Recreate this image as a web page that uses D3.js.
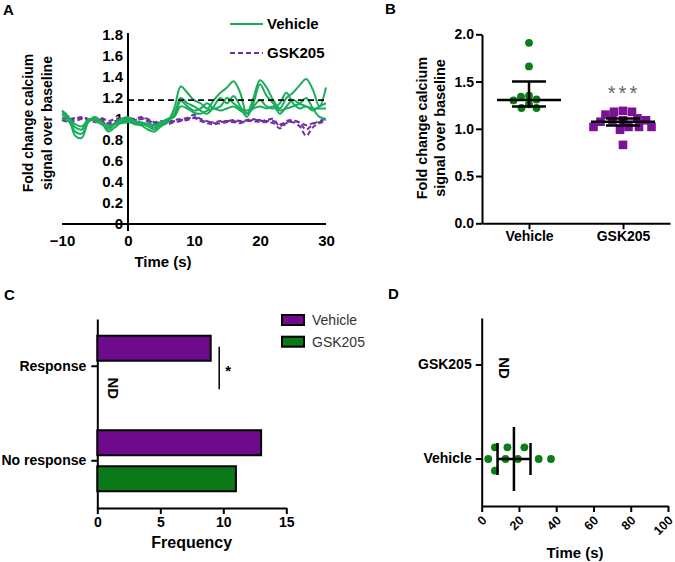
<!DOCTYPE html>
<html>
<head>
<meta charset="utf-8">
<script src="https://cdn.jsdelivr.net/npm/d3@7"></script>
<style>
body { margin: 0; background: #fff; }
text { font-family: "Liberation Sans", Arial, sans-serif; }
</style>
</head>
<body>
<svg id="fig" width="675" height="562"></svg>
<script>
// ---- panel A: calcium traces (fold change vs time) ----
var aTime = [-10,-9,-8,-7,-6,-5,-4,-3,-2,-1,0,1,2,3,4,5,6,7,8,9,10,11,12,13,14,15,16,17,18,19,20,21,22,23,24,25,26,27,28,29,30];
var aVehicle1 = [1.08,1.02,0.84,0.82,0.97,1.0,0.96,0.9,0.95,0.98,1.0,0.97,0.96,0.93,0.9,0.95,0.98,1.1,1.31,1.25,1.18,1.15,1.1,1.18,1.25,1.3,1.36,1.25,1.05,1.2,1.37,1.3,1.18,1.1,1.2,1.25,1.32,1.38,1.28,1.12,1.3];
var aVehicle2 = [1.0,0.98,0.88,0.86,0.98,1.02,0.97,0.88,0.92,0.97,0.98,0.95,0.94,0.9,0.88,0.93,0.97,1.05,1.2,1.15,1.12,1.08,1.05,1.12,1.2,1.15,1.22,1.12,1.02,1.15,1.33,1.22,1.15,1.05,1.12,1.18,1.15,1.2,1.1,1.02,1.0];
var aVehicle3 = [1.04,1.0,0.92,0.9,1.0,0.98,0.95,0.92,0.96,1.0,1.02,0.98,0.97,0.95,0.92,0.96,0.99,1.03,1.17,1.12,1.08,1.1,1.15,1.1,1.12,1.2,1.15,1.1,1.08,1.12,1.18,1.12,1.1,1.15,1.25,1.15,1.1,1.12,1.08,1.12,1.15];
var aVehicle4 = [1.06,1.01,0.95,0.93,0.99,1.0,0.97,0.94,0.95,0.96,0.97,0.96,0.95,0.96,0.94,0.97,1.0,1.02,1.12,1.1,1.06,1.05,1.08,1.1,1.08,1.1,1.12,1.08,1.05,1.1,1.12,1.1,1.12,1.08,1.1,1.12,1.14,1.12,1.1,1.1,1.1];
var aGsk1 = [1.0,0.98,1.0,1.02,1.0,0.98,1.0,0.96,0.98,1.0,1.01,1.0,1.02,1.0,0.97,0.98,0.97,0.99,1.0,1.01,1.04,1.0,0.98,0.96,0.97,0.98,0.99,0.98,0.99,1.0,0.98,0.99,1.0,0.93,0.98,0.99,0.96,0.9,0.95,0.98,1.0];
var aGsk2 = [0.99,0.97,0.98,1.0,0.99,0.97,0.98,0.94,0.96,0.98,0.99,0.98,1.0,0.98,0.95,0.96,0.95,0.97,0.98,0.99,1.01,0.98,0.96,0.95,0.96,0.97,0.97,0.96,0.98,0.98,0.97,0.97,0.96,0.91,0.96,0.97,0.93,0.84,0.92,0.96,0.98];
var aGsk3 = [1.01,1.0,1.01,1.01,1.0,0.99,1.01,0.98,1.0,1.01,1.0,0.99,1.01,0.99,0.96,0.97,0.96,0.98,0.99,1.0,1.02,0.99,0.97,0.97,0.98,0.98,0.98,0.97,0.98,0.99,0.99,0.98,0.98,0.95,0.97,0.98,0.97,0.94,0.96,0.97,0.99];
var aThreshold = 1.18;
var aYTicks = [0,0.2,0.4,0.6,0.8,1,1.2,1.4,1.6,1.8];
var aXTicks = [-10,0,10,20,30];

// ---- panel B: peak fold change per cell ----
var bGroups = ['Vehicle','GSK205'];
var bVehicle = [1.91,1.66,1.35,1.34,1.31,1.30,1.26,1.22,1.22];
var bGsk = [1.19,1.18,1.18,1.15,1.11,1.09,1.09,1.09,1.075,1.02,1.02,1.02,1.02,0.99,0.83];
var bCenter = [1.305,1.075];
var bLower = [1.235,1.035];
var bUpper = [1.50,1.11];
var bYTicks = [0,0.5,1.0,1.5,2.0];

// ---- panel C: response counts ----
var cCategories = ['Response','No response'];
var cSeries = ['Vehicle','GSK205'];
var cVehicle = [9,13];
var cGsk = [null,11];
var cXTicks = [0,5,10,15];

// ---- panel D: time to response ----
var dGroups = ['GSK205','Vehicle'];
var dVehicle = [3.5,7.1,7.1,12.8,13.8,19.4,22.9,30.6,37.2];
var dCenter = 17.3, dLower = 8.5, dUpper = 26.2;
var dXTicks = [0,20,40,60,80,100];

var green = '#1aad5a', purple = '#7030a0';
var dotGreen = '#0b7d12', dotPurple = '#7b1295';
var barPurple = '#6e0a8c', barGreen = '#0a7a18';

var svg = d3.select('#fig');

function styleAxis(g, size) {
  g.selectAll('path, line').attr('stroke', '#000').attr('stroke-width', 2);
  g.selectAll('text').attr('fill', '#000').attr('font-weight', 'bold')
    .attr('font-size', size || 14).attr('font-family', '"Liberation Sans", Arial, sans-serif');
}

function panelLabel(txt, x, y) {
  svg.append('text').attr('x', x).attr('y', y).attr('font-size', 15)
    .attr('font-weight', 'bold').text(txt);
}

// ================= A =================
var xA = d3.scaleLinear().domain([-10, 30]).range([62, 326]);
var yA = d3.scaleLinear().domain([0, 1.8]).range([224, 35]);
var gA = svg.append('g');

var axA = gA.append('g').attr('transform', 'translate(0,' + yA(0) + ')')
  .call(d3.axisBottom(xA).tickValues(aXTicks).tickSize(0).tickPadding(11));
axA.select('.domain').remove();
styleAxis(axA, 15);
var ayA = gA.append('g').attr('transform', 'translate(' + xA(0) + ',0)')
  .call(d3.axisLeft(yA).tickValues(aYTicks).tickSize(0).tickPadding(5).tickFormat(d3.format('~g')));
ayA.select('.domain').remove();
styleAxis(ayA, 15);

gA.append('line').attr('x1', xA(-10)).attr('x2', xA(30)).attr('y1', yA(0)).attr('y2', yA(0))
  .attr('stroke', '#000').attr('stroke-width', 2);
gA.append('line').attr('x1', xA(0)).attr('x2', xA(0)).attr('y1', yA(1.8) - 2).attr('y2', yA(0) + 7)
  .attr('stroke', '#000').attr('stroke-width', 2);

var lineA = d3.line().x(function (d, i) { return xA(aTime[i]); }).y(function (d) { return yA(d); })
  .curve(d3.curveCatmullRom.alpha(0.5));

[aGsk1, aGsk2, aGsk3].forEach(function (s) {
  gA.append('path').attr('d', lineA(s)).attr('fill', 'none').attr('stroke', purple)
    .attr('stroke-width', 2).attr('stroke-dasharray', '5,3');
});
[aVehicle1, aVehicle2, aVehicle3, aVehicle4].forEach(function (s) {
  gA.append('path').attr('d', lineA(s)).attr('fill', 'none').attr('stroke', green)
    .attr('stroke-width', 2);
});
gA.append('line').attr('x1', xA(0)).attr('x2', xA(30)).attr('y1', yA(aThreshold)).attr('y2', yA(aThreshold))
  .attr('stroke', '#000').attr('stroke-width', 1.8).attr('stroke-dasharray', '6,4');

// legend A
gA.append('line').attr('x1', 230).attr('x2', 263).attr('y1', 24).attr('y2', 24)
  .attr('stroke', green).attr('stroke-width', 2);
gA.append('text').attr('x', 267).attr('y', 24).attr('dy', '0.35em').attr('font-size', 15)
  .attr('font-weight', 'bold').text('Vehicle');
gA.append('line').attr('x1', 230).attr('x2', 263).attr('y1', 53).attr('y2', 53)
  .attr('stroke', purple).attr('stroke-width', 2).attr('stroke-dasharray', '5,3');
gA.append('text').attr('x', 267).attr('y', 53).attr('dy', '0.35em').attr('font-size', 15)
  .attr('font-weight', 'bold').text('GSK205');

gA.append('text').attr('x', 163).attr('y', 267).attr('text-anchor', 'middle').attr('font-size', 15)
  .attr('font-weight', 'bold').text('Time (s)');
var ylA = gA.append('text').attr('transform', 'translate(28,123) rotate(-90)')
  .attr('text-anchor', 'middle').attr('font-size', 14).attr('font-weight', 'bold');
ylA.append('tspan').attr('x', 0).attr('dy', '0.35em').text('Fold change calcium');
ylA.append('tspan').attr('x', 0).attr('dy', '1.35em').text('signal over baseline');
panelLabel('A', 3, 15);

// ================= B =================
var xB = d3.scalePoint().domain(bGroups).range([482, 670]).padding(0.5);
var yB = d3.scaleLinear().domain([0, 2]).range([223.3, 34.3]);
var gB = svg.append('g');
var axB = gB.append('g').attr('transform', 'translate(0,' + yB(0) + ')')
  .call(d3.axisBottom(xB).tickSize(6).tickSizeOuter(0).tickPadding(2));
styleAxis(axB);
var ayB = gB.append('g').attr('transform', 'translate(482,0)')
  .call(d3.axisLeft(yB).tickValues(bYTicks).tickSize(6).tickSizeOuter(0).tickPadding(2).tickFormat(d3.format('.1f')));
styleAxis(ayB);

// simple deterministic beeswarm: nearest free horizontal offset
function swarm(values, cx, yScale, dist) {
  var placed = [];
  return values.map(function (v) {
    var y = yScale(v), off = 0;
    for (var k = 0; k < 400; k++) {
      off = (k % 2 ? -1 : 1) * Math.ceil(k / 2) * 0.5;
      var ok = placed.every(function (p) {
        var dx = p.x - (cx + off), dy = p.y - y;
        return dx * dx + dy * dy >= dist * dist;
      });
      if (ok) break;
    }
    var pt = { x: cx + off, y: y };
    placed.push(pt);
    return pt;
  });
}

var ptsBV = swarm(bVehicle, xB('Vehicle'), yB, 8);
gB.selectAll('.bv').data(ptsBV).enter().append('circle')
  .attr('cx', function (d) { return d.x; }).attr('cy', function (d) { return d.y; })
  .attr('r', 3.9).attr('fill', dotGreen);
var ptsBG = swarm(bGsk, xB('GSK205'), yB, 8.6);
gB.selectAll('.bg').data(ptsBG).enter().append('rect')
  .attr('x', function (d) { return d.x - 4.3; }).attr('y', function (d) { return d.y - 4.3; })
  .attr('width', 8.6).attr('height', 8.6).attr('fill', dotPurple);

var halfMean = [32, 32], halfCap = [17, 17];
bGroups.forEach(function (g, i) {
  var cx = xB(g);
  gB.append('line').attr('x1', cx - halfMean[i]).attr('x2', cx + halfMean[i])
    .attr('y1', yB(bCenter[i])).attr('y2', yB(bCenter[i])).attr('stroke', '#000').attr('stroke-width', 2.5);
  gB.append('line').attr('x1', cx).attr('x2', cx).attr('y1', yB(bUpper[i])).attr('y2', yB(bLower[i]))
    .attr('stroke', '#000').attr('stroke-width', 2.5);
  [bUpper[i], bLower[i]].forEach(function (v) {
    gB.append('line').attr('x1', cx - halfCap[i]).attr('x2', cx + halfCap[i])
      .attr('y1', yB(v)).attr('y2', yB(v)).attr('stroke', '#000').attr('stroke-width', 2.5);
  });
});
gB.append('text').attr('x', xB('GSK205') + 1).attr('y', 100).attr('text-anchor', 'middle')
  .attr('font-size', 20).attr('fill', '#666').attr('letter-spacing', 3).text('***');

var ylB = gB.append('text').attr('transform', 'translate(422,128) rotate(-90)')
  .attr('text-anchor', 'middle').attr('font-size', 14.4).attr('font-weight', 'bold');
ylB.append('tspan').attr('x', 0).attr('dy', '0.35em').text('Fold change calcium');
ylB.append('tspan').attr('x', 0).attr('dy', '1.25em').text('signal over baseline');
panelLabel('B', 385, 14);

// ================= C =================
var xC = d3.scaleLinear().domain([0, 15]).range([97.3, 286.3]);
var yC = d3.scaleBand().domain(cCategories).range([319, 508]);
var ySub = d3.scaleBand().domain(cSeries).range([-30.5, 30.5]).paddingInner(0.306);
var gC = svg.append('g');
var axC = gC.append('g').attr('transform', 'translate(0,508)')
  .call(d3.axisBottom(xC).tickValues(cXTicks).tickSize(6).tickSizeOuter(0));
styleAxis(axC);
var ayC = gC.append('g').attr('transform', 'translate(97.3,0)')
  .call(d3.axisLeft(yC).tickSize(6).tickSizeOuter(0).tickPadding(5));
styleAxis(ayC);

var cRows = [];
cCategories.forEach(function (c, i) {
  cRows.push({ cat: c, series: 'Vehicle', v: cVehicle[i], color: barPurple });
  cRows.push({ cat: c, series: 'GSK205', v: cGsk[i], color: barGreen });
});
gC.selectAll('.bar').data(cRows.filter(function (d) { return d.v != null; })).enter().append('rect')
  .attr('x', xC(0)).attr('y', function (d) { return yC(d.cat) + yC.bandwidth() / 2 + ySub(d.series); })
  .attr('width', function (d) { return xC(d.v) - xC(0); }).attr('height', ySub.bandwidth())
  .attr('fill', function (d) { return d.color; }).attr('stroke', '#000').attr('stroke-width', 2);

var respC = yC('Response') + yC.bandwidth() / 2;
gC.append('text')
  .attr('transform', 'translate(' + (xC(0) + 16) + ',' + (respC + ySub('GSK205') + ySub.bandwidth() / 2 + 4) + ') rotate(90)')
  .attr('text-anchor', 'middle').attr('dy', '0.35em').attr('font-size', 15).attr('font-weight', 'bold').text('ND');
var sigX = xC(cVehicle[0]) + 8.5;
gC.append('line').attr('x1', sigX).attr('x2', sigX)
  .attr('y1', respC + ySub('Vehicle') + 11).attr('y2', respC + ySub('GSK205') + ySub.bandwidth() / 2 + 5)
  .attr('stroke', '#000').attr('stroke-width', 1.5);
gC.append('text').attr('x', sigX + 9).attr('y', respC + 2).attr('dy', '0.5em').attr('text-anchor', 'middle')
  .attr('font-size', 15).attr('font-weight', 'bold').text('*');

gC.append('text').attr('x', 191.7).attr('y', 548).attr('text-anchor', 'middle').attr('font-size', 16)
  .attr('font-weight', 'bold').text('Frequency');

// legend C
var legC = gC.append('g');
cSeries.forEach(function (s, i) {
  legC.append('rect').attr('x', 282).attr('y', 315 + i * 21.7).attr('width', 22).attr('height', 10)
    .attr('fill', i === 0 ? barPurple : barGreen).attr('stroke', '#000').attr('stroke-width', 2);
  legC.append('text').attr('x', 312).attr('y', 320 + i * 21.7).attr('dy', '0.35em')
    .attr('font-size', 14).attr('fill', '#333').text(s);
});
panelLabel('C', 4, 300);

// ================= D =================
var xD = d3.scaleLinear().domain([0, 100]).range([481.7, 668]);
var yD = d3.scaleBand().domain(dGroups).range([318, 506]);
var gD = svg.append('g');
var axD = gD.append('g').attr('transform', 'translate(0,506)')
  .call(d3.axisBottom(xD).tickValues(dXTicks).tickSize(6).tickSizeOuter(0));
styleAxis(axD, 12.5);
axD.selectAll('text').attr('text-anchor', 'end').attr('dy', '0.35em')
  .attr('transform', 'translate(2,12) rotate(-45)').attr('y', 0).attr('x', 0);
var ayD = gD.append('g').attr('transform', 'translate(481.7,0)')
  .call(d3.axisLeft(yD).tickSize(6).tickSizeOuter(0).tickPadding(4));
styleAxis(ayD);

// grid swarm: rows stacked around the category line
var vehY = yD('Vehicle') + yD.bandwidth() / 2;
var rowStep = 11.7, rowOrder = [0, -1, 1, -2, 2];
var placedD = [];
var ptsD = dVehicle.map(function (v) {
  var x = xD(v), row = 0;
  for (var k = 0; k < rowOrder.length; k++) {
    var r = rowOrder[k];
    var clash = placedD.some(function (p) { return p.row === r && Math.abs(p.x - x) < 8; });
    if (!clash) { row = r; break; }
  }
  var p = { x: x, row: row };
  placedD.push(p);
  return p;
});
gD.selectAll('.dv').data(ptsD).enter().append('circle')
  .attr('cx', function (d) { return d.x; }).attr('cy', function (d) { return vehY + d.row * rowStep; })
  .attr('r', 3.9).attr('fill', dotGreen);
gD.append('line').attr('x1', xD(dCenter)).attr('x2', xD(dCenter)).attr('y1', vehY - 32).attr('y2', vehY + 32)
  .attr('stroke', '#000').attr('stroke-width', 2.5);
gD.append('line').attr('x1', xD(dLower)).attr('x2', xD(dUpper)).attr('y1', vehY).attr('y2', vehY)
  .attr('stroke', '#000').attr('stroke-width', 2.5);
[dLower, dUpper].forEach(function (v) {
  gD.append('line').attr('x1', xD(v)).attr('x2', xD(v)).attr('y1', vehY - 16).attr('y2', vehY + 16)
    .attr('stroke', '#000').attr('stroke-width', 2.5);
});
var gskY = yD('GSK205') + yD.bandwidth() / 2;
gD.append('text').attr('transform', 'translate(' + (xD(0) + 23) + ',' + (gskY + 3) + ') rotate(90)')
  .attr('text-anchor', 'middle').attr('dy', '0.35em').attr('font-size', 15).attr('font-weight', 'bold').text('ND');
gD.append('text').attr('x', 575).attr('y', 558).attr('text-anchor', 'middle').attr('font-size', 15)
  .attr('font-weight', 'bold').text('Time (s)');
panelLabel('D', 388, 299);
</script>
</body>
</html>
